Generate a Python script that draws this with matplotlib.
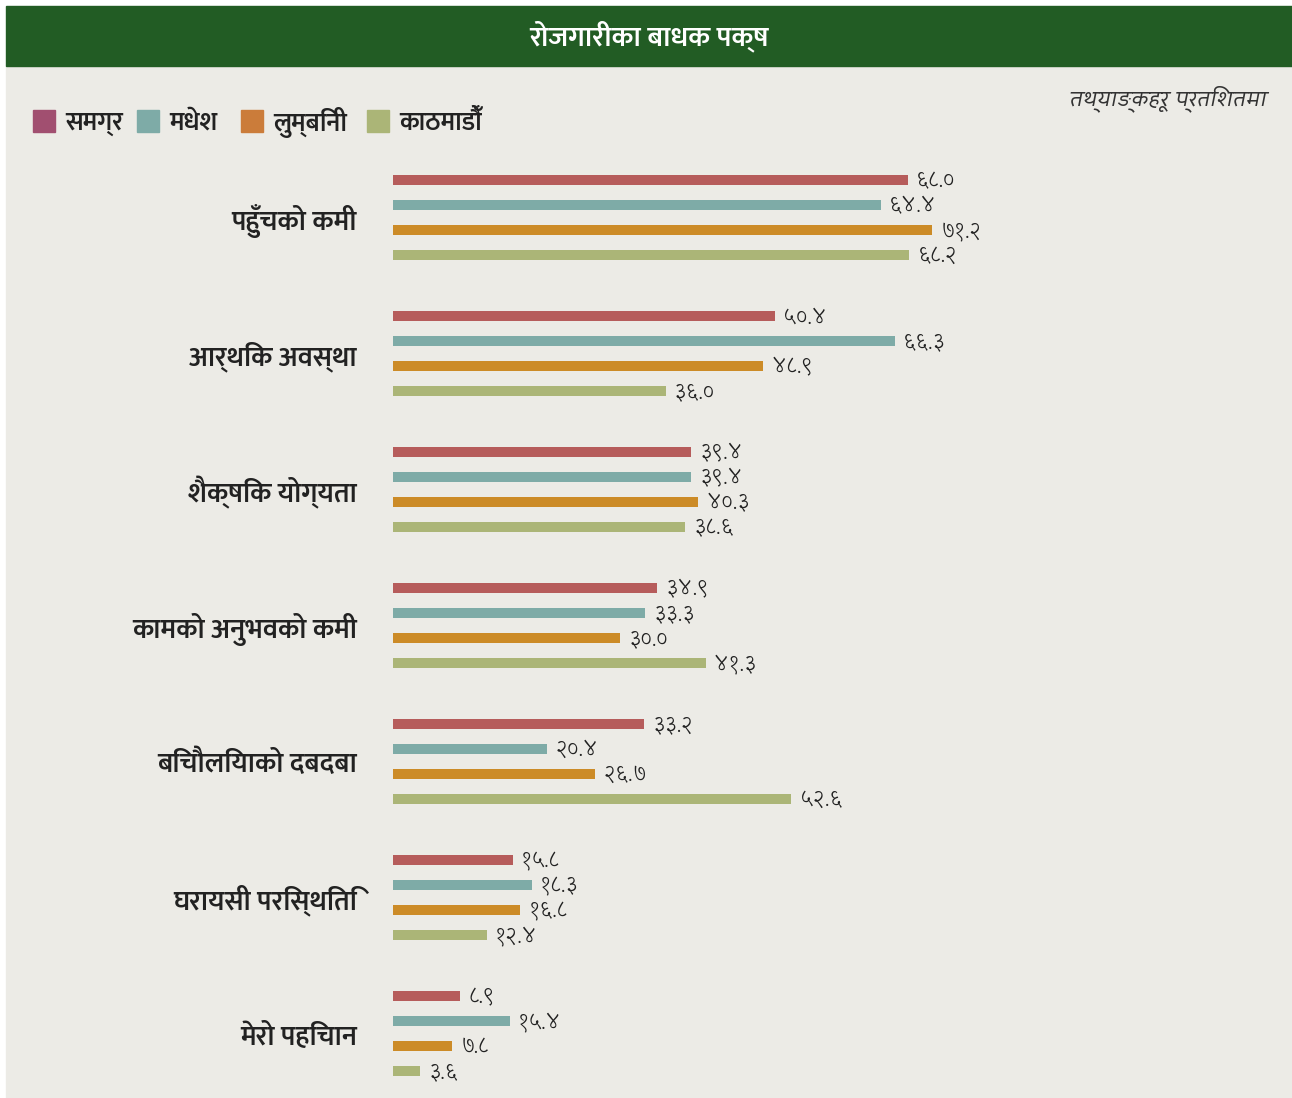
import matplotlib
matplotlib.use("Agg")
import matplotlib.pyplot as plt
from matplotlib.patches import Rectangle

# ---------------- data ----------------
title = "रोजगारीका बाधक पक्ष"
note = "तथ्याङ्कहरू प्रतिशतमा"
series = ["समग्र", "मधेश", "लुम्बिनी", "काठमाडौँ"]
categories = ["पहुँचको कमी", "आर्थिक अवस्था", "शैक्षिक योग्यता",
              "कामको अनुभवको कमी", "बिचौलियाको दबदबा", "घरायसी परिस्थिति",
              "मेरो पहिचान"]
samagra = [68.0, 50.4, 39.4, 34.9, 33.2, 15.8, 8.9]
madhesh = [64.4, 66.3, 39.4, 33.3, 20.4, 18.3, 15.4]
lumbini = [71.2, 48.9, 40.3, 30.0, 26.7, 16.8, 7.8]
kathmandu = [68.2, 36.0, 38.6, 41.3, 52.6, 12.4, 3.6]

bar_colors = ["#b65c5b", "#7eaba7", "#cc8b27", "#abb577"]
legend_colors = ["#a14f70", "#7eaba7", "#cb7c3a", "#abb577"]

LABEL_FONT = ["Mukta", "Noto Sans Devanagari", "DejaVu Sans"]
NUM_FONT = ["Karma", "Noto Sans Devanagari", "DejaVu Sans"]
NOTE_FONT = ["Cambay", "Noto Sans Devanagari", "DejaVu Sans"]
plt.rcParams["font.family"] = LABEL_FONT

dev_digits = str.maketrans("0123456789", "०१२३४५६७८९")
def dev(v):
    return f"{v:.1f}".translate(dev_digits)

W, H = 1292, 1098
fig = plt.figure(figsize=(W / 100, H / 100), dpi=100)
fig.patch.set_facecolor("white")

bg = fig.add_axes([0, 0, 1, 1])
bg.set_xlim(0, W)
bg.set_ylim(H, 0)
bg.axis("off")
bg.add_patch(Rectangle((6, 66), W - 6, H - 66, color="#ecebe6", zorder=0))
bg.add_patch(Rectangle((6, 6), W - 6, 60, color="#225c24", zorder=1))
bg.text(649, 37, title, color="white", fontsize=20.5, fontweight=600,
        family=LABEL_FONT, ha="center", va="center", zorder=2)
bg.text(1267, 99, note, color="#333333", fontsize=17.5, style="italic",
        family=NOTE_FONT, ha="right", va="center")

lx = [33, 137, 241, 367]
for i, (name, c) in enumerate(zip(series, legend_colors)):
    bg.add_patch(Rectangle((lx[i], 110), 22, 22, color=c))
    bg.text(lx[i] + 32, 123, name, color="#222222", fontsize=18.5,
            fontweight=600, family=LABEL_FONT, ha="left", va="center")

ax = fig.add_axes([393 / W, 0, 757 / W, 1])
ax.set_facecolor("none")
ax.set_xlim(0, 100)
ax.set_ylim(H, 0)
ax.axis("off")

all_series = [samagra, madhesh, lumbini, kathmandu]
for i, cat in enumerate(categories):
    base = 180 + 136 * i
    for j, vals in enumerate(all_series):
        y = base + 25 * j
        ax.barh(y, vals[i], height=10, color=bar_colors[j], left=0)
        ax.annotate(dev(vals[i]), xy=(vals[i], y), xytext=(6, -1),
                    textcoords="offset points", ha="left", va="center",
                    fontsize=17, fontweight=300, family=NUM_FONT,
                    color="#222222")
    bg.text(357, base + 41, cat, ha="right", va="center", fontsize=20,
            fontweight=600, family=LABEL_FONT, color="#222222")

fig.savefig("out.png", dpi=100, facecolor=fig.get_facecolor())
